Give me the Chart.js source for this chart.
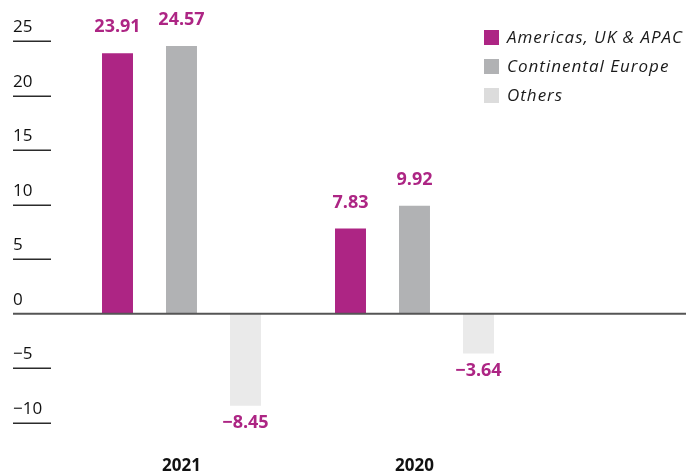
<!DOCTYPE html>
<html>
<head>
<meta charset="utf-8">
<script src="https://cdn.jsdelivr.net/npm/chart.js@4.4.1/dist/chart.umd.min.js"></script>
<style>
  html, body { margin: 0; padding: 0; background: #ffffff; }
  #wrap { width: 686px; height: 473px; position: relative; }
</style>
</head>
<body>
<div id="wrap"><canvas id="c" width="686" height="473"></canvas></div>
<script>
const categories = ['2021', '2020'];
const seriesNames = ['Americas, UK & APAC', 'Continental Europe', 'Others'];
const americasUkApac = [23.91, 7.83];
const continentalEurope = [24.57, 9.92];
const others = [-8.45, -3.64];
const yTicks = [25, 20, 15, 10, 5, 0, -5, -10];
const seriesColors = ['#AD2584', '#B1B2B4', '#EAEAEA'];
const legendSwatchColors = ['#AD2584', '#B1B2B4', '#DCDCDC'];

const FONT = "'Open Sans', 'Liberation Sans', sans-serif";
const MAGENTA = '#AD2584';

function fmt(v) {
  const s = Math.abs(v).toFixed(2);
  return v < 0 ? '\u2212' + s : s;
}
function fmtTick(v) {
  return v < 0 ? '\u2212' + Math.abs(v) : String(v);
}

const decorPlugin = {
  id: 'decor',
  beforeDatasetsDraw(chart) {
    const ctx = chart.ctx;
    const y = chart.scales.y;
    ctx.save();
    ctx.strokeStyle = '#2b2b2b';
    ctx.lineWidth = 1.6;
    yTicks.forEach(v => {
      if (v === 0) return;
      const py = Math.round(y.getPixelForValue(v)) + 0.25;
      ctx.beginPath();
      ctx.moveTo(13, py);
      ctx.lineTo(51, py);
      ctx.stroke();
    });
    ctx.restore();
  },
  afterDatasetsDraw(chart) {
    const ctx = chart.ctx;
    const y = chart.scales.y;
    ctx.save();
    const py0 = y.getPixelForValue(0);
    ctx.strokeStyle = '#555555';
    ctx.lineWidth = 2;
    ctx.beginPath();
    ctx.moveTo(13, py0);
    ctx.lineTo(686, py0);
    ctx.stroke();

    ctx.fillStyle = MAGENTA;
    ctx.font = "bold 18px " + FONT;
    ctx.textAlign = 'center';
    ctx.textBaseline = 'middle';
    chart.data.datasets.forEach((ds, di) => {
      const meta = chart.getDatasetMeta(di);
      meta.data.forEach((bar, i) => {
        const v = ds.data[i];
        const ly = v >= 0 ? bar.y - 26 : bar.y + 17;
        ctx.fillText(fmt(v), bar.x, ly);
      });
    });

    ctx.font = "italic 17px " + FONT;
    try { ctx.letterSpacing = '1px'; } catch (e) {}
    ctx.textAlign = 'left';
    ctx.textBaseline = 'middle';
    chart.data.datasets.forEach((ds, di) => {
      const cy = 37.5 + di * 29;
      ctx.fillStyle = legendSwatchColors[di];
      ctx.fillRect(484, cy - 7.5, 15, 15);
      ctx.fillStyle = '#1a1a1a';
      ctx.fillText(ds.label, 507, cy + 0.5);
    });
    try { ctx.letterSpacing = '0px'; } catch (e) {}
    ctx.restore();
  }
};

new Chart(document.getElementById('c'), {
  type: 'bar',
  data: {
    labels: categories,
    datasets: [
      { label: seriesNames[0], data: americasUkApac, backgroundColor: seriesColors[0] },
      { label: seriesNames[1], data: continentalEurope, backgroundColor: seriesColors[1] },
      { label: seriesNames[2], data: others, backgroundColor: seriesColors[2] }
    ]
  },
  options: {
    responsive: false,
    animation: false,
    devicePixelRatio: 1,
    layout: { padding: { left: 13, right: 155, top: 41.3, bottom: 0 } },
    datasets: { bar: { categoryPercentage: 0.824, barPercentage: 0.484 } },
    plugins: { legend: { display: false }, tooltip: { enabled: false } },
    scales: {
      x: {
        grid: { display: false, drawTicks: false },
        border: { display: false },
        ticks: {
          padding: 33,
          color: '#111111',
          font: { family: FONT, size: 17, weight: 'bold' }
        },
        afterFit(scale) { scale.height = 50.3; }
      },
      y: {
        min: -10,
        max: 25,
        afterBuildTicks(scale) { scale.ticks = yTicks.map(v => ({ value: v })); },
        grid: { display: false, drawTicks: false },
        border: { display: false },
        ticks: {
          crossAlign: 'far',
          labelOffset: -14,
          padding: 0,
          color: '#111111',
          font: { family: FONT, size: 17 },
          callback: (v) => fmtTick(v)
        },
        afterFit(scale) { scale.width = 52; }
      }
    }
  },
  plugins: [decorPlugin]
});
</script>
</body>
</html>
